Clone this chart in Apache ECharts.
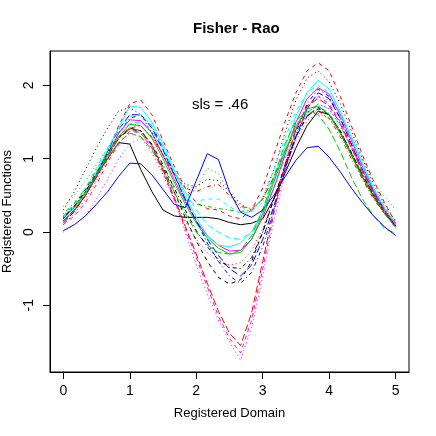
<!DOCTYPE html>
<html>
<head>
<meta charset="utf-8">
<script src="https://cdn.jsdelivr.net/npm/echarts@6/dist/echarts.min.js"></script>
<style>
  html, body { margin: 0; padding: 0; background: #fff; }
  #chart { width: 436px; height: 436px; }
</style>
</head>
<body>
<div id="chart"></div>
<script>
// domain grid: 31 points, 0 .. 5 in steps of 1/6
const domain = [0, 1/6, 2/6, 3/6, 4/6, 5/6, 1, 7/6, 8/6, 9/6, 10/6, 11/6, 2, 13/6, 14/6, 15/6, 16/6, 17/6, 3, 19/6, 20/6, 21/6, 22/6, 23/6, 4, 25/6, 26/6, 27/6, 28/6, 29/6, 5]

// registered functions, in matplot order
const f01 = [0.18, 0.35, 0.55, 0.78, 1.0, 1.22, 1.2, 0.85, 0.55, 0.3, 0.22, 0.2, 0.2, 0.2, 0.18, 0.13, 0.1, 0.12, 0.18, 0.45, 0.8, 1.15, 1.45, 1.65, 1.6, 1.35, 1.05, 0.75, 0.48, 0.25, 0.08]
const f02 = [0.2, 0.35, 0.55, 0.8, 1.1, 1.45, 1.75, 1.8, 1.6, 1.25, 0.9, 0.6, 0.4, 0.32, 0.3, 0.22, 0.18, 0.3, 0.6, 1.05, 1.5, 1.9, 2.2, 2.31, 2.2, 1.85, 1.45, 1.05, 0.7, 0.4, 0.12]
const f03 = [0.35, 0.5, 0.7, 0.92, 1.15, 1.35, 1.48, 1.45, 1.3, 1.05, 0.8, 0.62, 0.6, 0.87, 0.8, 0.55, 0.33, 0.28, 0.4, 0.7, 1.05, 1.4, 1.7, 1.85, 1.8, 1.6, 1.3, 1.0, 0.7, 0.48, 0.3]
const f04 = [0.15, 0.3, 0.5, 0.75, 1.05, 1.35, 1.55, 1.6, 1.45, 1.15, 0.8, 0.45, 0.15, -0.15, -0.4, -0.6, -0.7, -0.55, -0.2, 0.3, 0.85, 1.35, 1.75, 1.95, 1.85, 1.55, 1.2, 0.85, 0.55, 0.3, 0.1]
const f05 = [0.2, 0.35, 0.55, 0.8, 1.05, 1.3, 1.48, 1.5, 1.38, 1.12, 0.82, 0.55, 0.3, 0.1, 0.0, -0.08, -0.1, 0.0, 0.25, 0.6, 1.0, 1.35, 1.62, 1.75, 1.68, 1.45, 1.15, 0.85, 0.55, 0.3, 0.1]
const f06 = [0.15, 0.3, 0.5, 0.75, 1.05, 1.35, 1.53, 1.52, 1.35, 1.05, 0.72, 0.42, 0.15, -0.05, -0.18, -0.26, -0.25, -0.1, 0.2, 0.6, 1.05, 1.5, 1.82, 1.97, 1.88, 1.6, 1.25, 0.9, 0.58, 0.32, 0.1]
const f07 = [0.22, 0.38, 0.58, 0.82, 1.08, 1.3, 1.42, 1.38, 1.18, 0.88, 0.55, 0.2, -0.12, -0.4, -0.62, -0.71, -0.65, -0.4, 0.0, 0.45, 0.9, 1.3, 1.58, 1.7, 1.6, 1.38, 1.08, 0.78, 0.5, 0.27, 0.08]
const f08 = [0.1, 0.25, 0.45, 0.7, 0.98, 1.22, 1.35, 1.3, 1.08, 0.78, 0.45, 0.15, -0.1, -0.28, -0.4, -0.45, -0.42, -0.25, 0.05, 0.45, 0.88, 1.25, 1.52, 1.62, 1.55, 1.35, 1.08, 0.8, 0.52, 0.3, 0.1]
const f09 = [0.25, 0.4, 0.6, 0.85, 1.1, 1.3, 1.4, 1.35, 1.15, 0.88, 0.62, 0.45, 0.38, 0.35, 0.32, 0.3, 0.28, 0.3, 0.45, 0.75, 1.1, 1.42, 1.65, 1.72, 1.62, 1.38, 1.08, 0.78, 0.52, 0.3, 0.12]
const f10 = [0.12, 0.28, 0.5, 0.78, 1.1, 1.4, 1.6, 1.6, 1.42, 1.12, 0.78, 0.45, 0.15, -0.1, -0.32, -0.5, -0.6, -0.45, -0.1, 0.35, 0.85, 1.3, 1.68, 1.9, 1.82, 1.55, 1.2, 0.85, 0.55, 0.3, 0.08]
const f11 = [0.2, 0.35, 0.55, 0.82, 1.12, 1.42, 1.72, 1.7, 1.5, 1.2, 0.85, 0.5, 0.2, -0.05, -0.18, -0.2, -0.15, 0.0, 0.3, 0.72, 1.15, 1.58, 1.9, 2.07, 1.95, 1.65, 1.3, 0.95, 0.6, 0.32, 0.1]
const f12 = [0.1, 0.22, 0.4, 0.65, 0.95, 1.2, 1.38, 1.35, 1.15, 0.82, 0.45, 0.05, -0.35, -0.75, -1.15, -1.45, -1.65, -1.2, -0.5, 0.25, 0.9, 1.4, 1.72, 1.85, 1.75, 1.5, 1.18, 0.85, 0.55, 0.3, 0.08]
const f13 = [0.3, 0.55, 0.85, 1.15, 1.42, 1.65, 1.7, 1.6, 1.35, 1.05, 0.8, 0.65, 0.62, 0.72, 0.7, 0.55, 0.38, 0.3, 0.45, 0.85, 1.35, 1.8, 2.1, 2.2, 2.05, 1.75, 1.38, 1.0, 0.65, 0.38, 0.15]
const f14 = [0.2, 0.35, 0.55, 0.8, 1.05, 1.28, 1.42, 1.45, 1.3, 1.05, 0.78, 0.6, 0.55, 0.62, 0.65, 0.5, 0.35, 0.32, 0.45, 0.75, 1.1, 1.4, 1.6, 1.65, 1.55, 1.3, 1.0, 0.72, 0.45, 0.25, 0.08]
const f15 = [0.15, 0.3, 0.5, 0.75, 1.0, 1.22, 1.35, 1.3, 1.12, 0.85, 0.55, 0.25, 0.0, -0.18, -0.28, -0.3, -0.25, -0.05, 0.3, 0.75, 1.2, 1.52, 1.65, 1.6, 1.4, 1.1, 0.75, 0.45, 0.22, 0.05, -0.02]
const f16 = [0.02, 0.1, 0.22, 0.38, 0.55, 0.76, 0.94, 0.93, 0.78, 0.58, 0.38, 0.33, 0.7, 1.07, 0.99, 0.55, 0.27, 0.2, 0.3, 0.5, 0.75, 0.98, 1.15, 1.17, 1.02, 0.82, 0.6, 0.4, 0.22, 0.07, -0.05]
const f17 = [0.22, 0.38, 0.6, 0.88, 1.15, 1.4, 1.58, 1.6, 1.45, 1.15, 0.82, 0.55, 0.42, 0.45, 0.45, 0.35, 0.25, 0.28, 0.48, 0.85, 1.28, 1.65, 1.9, 2.0, 1.9, 1.62, 1.28, 0.92, 0.6, 0.35, 0.12]
const f18 = [0.0, 0.1, 0.22, 0.45, 0.72, 1.0, 1.2, 1.28, 1.15, 0.85, 0.45, 0.0, -0.45, -0.85, -1.2, -1.5, -1.75, -1.3, -0.6, 0.15, 0.8, 1.3, 1.62, 1.75, 1.68, 1.45, 1.15, 0.85, 0.55, 0.3, 0.1]
const f19 = [0.2, 0.35, 0.55, 0.8, 1.05, 1.28, 1.4, 1.38, 1.2, 0.92, 0.6, 0.3, 0.02, -0.2, -0.38, -0.48, -0.5, -0.35, 0.0, 0.45, 0.9, 1.3, 1.58, 1.68, 1.6, 1.38, 1.08, 0.78, 0.5, 0.27, 0.08]
const f20 = [0.15, 0.3, 0.5, 0.75, 1.02, 1.28, 1.42, 1.38, 1.18, 0.85, 0.48, 0.08, -0.3, -0.7, -1.08, -1.38, -1.55, -1.1, -0.4, 0.3, 0.92, 1.4, 1.72, 1.82, 1.72, 1.48, 1.15, 0.82, 0.52, 0.28, 0.05]
const f21 = [0.18, 0.33, 0.53, 0.78, 1.05, 1.3, 1.47, 1.45, 1.28, 1.0, 0.68, 0.38, 0.12, -0.08, -0.22, -0.3, -0.28, -0.1, 0.25, 0.68, 1.1, 1.45, 1.68, 1.72, 1.6, 1.35, 1.05, 0.75, 0.48, 0.25, 0.06]

const curves = [f01, f02, f03, f04, f05, f06, f07, f08, f09, f10, f11, f12, f13, f14, f15, f16, f17, f18, f19, f20, f21]

const xTicks = [0, 1, 2, 3, 4, 5]
const yTicks = [-1, 0, 1, 2]

// R palette / lty cycle
const cols = ['#000000', '#FF0000', '#00CD00', '#0000FF', '#00FFFF', '#FF00FF']
const ltys = ['solid', [4, 4], [1, 3], [1, 3, 4, 3], [7, 3]]

let myChart = echarts.init(document.getElementById('chart'))

let series = curves.map((ys, i) => ({
  type: 'line',
  data: domain.map((x, j) => [x, ys[j]]),
  showSymbol: false,
  symbol: 'none',
  silent: true,
  lineStyle: {
    width: 1,
    color: cols[i % 6],
    type: ltys[i % 5]
  }
}))

let option = {
  animation: false,
  backgroundColor: '#fff',
  title: {
    text: 'Fisher - Rao',
    left: 188,
    top: 16,
    textStyle: {
      fontFamily: 'Liberation Sans',
      fontWeight: 'bold',
      fontSize: 15,
      color: '#000'
    }
  },
  graphic: [{
    type: 'text',
    left: 192,
    top: 97,
    style: {
      text: 'sls = .46',
      fontFamily: 'Liberation Sans',
      fontSize: 15,
      fill: '#000'
    }
  }],
  grid: {
    left: 50,
    right: 27,
    top: 51,
    bottom: 64,
    outerBoundsMode: 'none',
    containLabel: false,
    show: true,
    borderColor: '#000',
    borderWidth: 1
  },
  xAxis: {
    type: 'value',
    min: -0.2,
    max: 5.2,
    name: 'Registered Domain',
    nameLocation: 'middle',
    nameGap: 35,
    nameTextStyle: { fontFamily: 'Liberation Sans', fontSize: 13, color: '#000' },
    axisLine: { show: true, onZero: false, lineStyle: { color: '#000' } },
    axisTick: { show: true, inside: false, length: 7, customValues: xTicks, lineStyle: { color: '#000' } },
    axisLabel: { customValues: xTicks, margin: 12, fontFamily: 'Liberation Sans', fontSize: 14, color: '#000' },
    splitLine: { show: false }
  },
  yAxis: {
    type: 'value',
    min: -1.91,
    max: 2.47,
    name: 'Registered Functions',
    nameLocation: 'middle',
    nameGap: 33,
    nameTextStyle: { fontFamily: 'Liberation Sans', fontSize: 13, color: '#000' },
    axisLine: { show: true, onZero: false, lineStyle: { color: '#000' } },
    axisTick: { show: true, inside: false, length: 7, customValues: yTicks, lineStyle: { color: '#000' } },
    axisLabel: { customValues: yTicks, rotate: 90, margin: 14, fontFamily: 'Liberation Sans', fontSize: 14, color: '#000' },
    splitLine: { show: false }
  },
  series: series
}
myChart.setOption(option)
</script>
</body>
</html>
